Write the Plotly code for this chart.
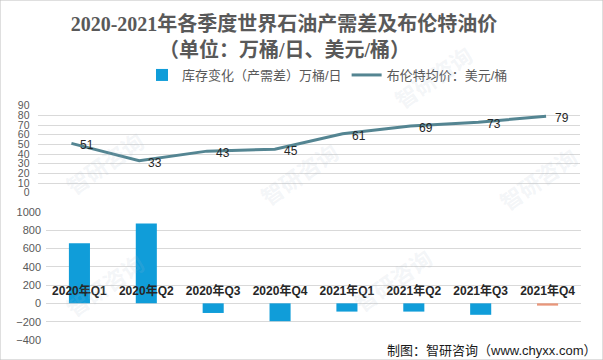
import plotly.graph_objects as go

# ---- data ----
quarters = ["2020年Q1", "2020年Q2", "2020年Q3", "2020年Q4",
            "2021年Q1", "2021年Q2", "2021年Q3", "2021年Q4"]
inventory_change = [655, 870, -105, -195, -90, -90, -125, -25]   # 万桶/日
brent_price = [51, 33, 43, 45, 61, 69, 73, 79]                   # 美元/桶
price_ticks = list(range(0, 91, 10))
inv_ticks = list(range(-400, 1001, 200))

title_line1 = "2020-2021年各季度世界石油产需差及布伦特油价"
title_line2 = "（单位：万桶/日、美元/桶）"
bar_name = "库存变化（产需差）万桶/日"
line_name = "布伦特均价：美元/桶"
source_text = "制图：智研咨询（www.chyxx.com）"
watermark_text = "智研咨询"

# ---- layout helpers ----
W, H = 603, 360
def fx(p):
    return p / W
def fy(p):
    return 1 - p / H

BLUE = "#109DD9"
SALMON = "#E9967A"
LINE = "#548592"
GRID = "#D9D9D9"
TICK = "#595959"
FONT = "Liberation Sans, Noto Sans CJK SC, sans-serif"
TFONT = "Liberation Serif, Noto Sans CJK SC, serif"

bar_colors = [BLUE] * (len(quarters) - 1) + [SALMON]

fig = go.Figure()
fig.add_trace(go.Bar(
    x=quarters, y=inventory_change, xaxis="x2", yaxis="y2",
    name=bar_name, marker=dict(color=bar_colors, line_width=0),
))
fig.add_trace(go.Scatter(
    x=quarters, y=brent_price, xaxis="x", yaxis="y", mode="lines",
    name=line_name, line=dict(color=LINE, width=3),
))

annotations = []

# faint watermarks (drawn first, underneath)
wm_pos = [(480, 40), (60, 165), (300, 175), (585, 180), (60, 325), (440, 320)]
for (px, py) in wm_pos:
    annotations.append(dict(
        x=fx(px), y=fy(py), xref="paper", yref="paper", text=watermark_text, showarrow=False,
        textangle=-35, font=dict(family=FONT, size=22, color="rgba(170,185,205,0.15)", weight="bold"),
    ))

for q, v in zip(quarters, brent_price):
    annotations.append(dict(
        x=q, y=v, xref="x", yref="y", text=str(v), showarrow=False,
        xshift=16, yshift=-2,
        font=dict(family=FONT, size=12, color="#262626"),
    ))

annotations.append(dict(
    x=fx(284), y=fy(50), xref="paper", yref="paper", xanchor="center", yanchor="middle",
    text=title_line2, showarrow=False,
    font=dict(family=TFONT, size=20, color=TICK, weight="bold"),
))

annotations.append(dict(
    x=fx(598), y=fy(350), xref="paper", yref="paper", xanchor="right", yanchor="middle",
    text=source_text, showarrow=False,
    font=dict(family=FONT, size=13, color="#1A1A1A"),
))

fig.update_layout(
    width=W, height=H,
    margin=dict(l=0, r=0, t=0, b=0, autoexpand=False),
    paper_bgcolor="white", plot_bgcolor="white",
    bargap=0.685,
    showlegend=True,
    title=dict(
        text=title_line1, x=fx(284), xanchor="center", y=fy(24), yanchor="middle",
        xref="paper", yref="paper",
        font=dict(family=TFONT, size=20, color=TICK, weight="bold"),
    ),
    legend=dict(
        orientation="h", x=fx(142), xanchor="left", y=fy(75), yanchor="middle",
        font=dict(family=FONT, size=13, color=TICK), bgcolor="rgba(0,0,0,0)",
        traceorder="normal",
    ),
    xaxis=dict(
        domain=[fx(37.5), fx(580)], anchor="y", type="category", range=[-0.5, 7.5],
        showticklabels=False, showgrid=False, showline=False, zeroline=False,
        automargin=False,
    ),
    yaxis=dict(
        domain=[fy(192.7), fy(105.7)], anchor="x", range=[0, 90], tickvals=price_ticks,
        showgrid=True, gridcolor=GRID, gridwidth=1, zeroline=False, showline=False,
        tickfont=dict(family=FONT, size=10.5, color=TICK), ticks="", ticklabelstandoff=7,
        automargin=False,
    ),
    xaxis2=dict(
        domain=[fx(46), fx(581)], anchor="free", position=fy(282), type="category",
        range=[-0.5, 7.5], showgrid=False, showline=False, zeroline=False, ticks="",
        tickfont=dict(family=FONT, size=12, color="#262626", weight="bold"),
        automargin=False,
    ),
    yaxis2=dict(
        domain=[fy(340), fy(211.7)], anchor="x2", range=[-400, 1000], tickvals=inv_ticks,
        showgrid=True, gridcolor=GRID, gridwidth=1, zeroline=False, showline=False,
        tickfont=dict(family=FONT, size=11, color=TICK), ticks="", ticklabelstandoff=4,
        automargin=False,
    ),
    annotations=annotations,
    shapes=[dict(type="rect", xref="paper", yref="paper", x0=0, y0=0, x1=1, y1=1,
                 line=dict(color="#BFBFBF", width=1), layer="above")],
)

fig.write_html("out.html", config={"displayModeBar": False},
               post_script="document.body.style.margin='0px';")
